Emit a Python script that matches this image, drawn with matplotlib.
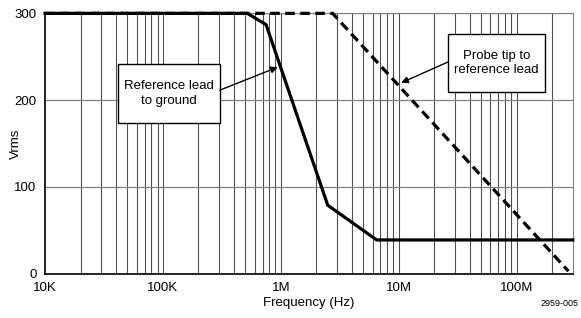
import matplotlib.pyplot as plt
from matplotlib.patches import Rectangle

# data
ref_freq = [1e4, 5.2e5, 7.5e5, 2.5e6, 6.5e6, 3e8]
ref_vrms = [300, 300, 287, 79, 39, 39]

tip_freq = [1e4, 2.75e6, 2.75e8]
tip_vrms = [300, 300, 3]

x_ticks = [1e4, 1e5, 1e6, 1e7, 1e8]
x_labels = ['10K', '100K', '1M', '10M', '100M']
y_ticks = [0, 100, 200, 300]

plt.rcParams['font.family'] = ['Liberation Sans Narrow', 'Liberation Sans', 'DejaVu Sans']

fig = plt.figure(figsize=(5.81, 3.18), dpi=100)
ax = fig.add_axes([0.0775, 0.139, 0.9085, 0.819])

ax.set_xscale('log')
ax.set_xlim(1e4, 3e8)
ax.set_ylim(0, 300)

# grid: every 1..9 per decade, horizontal at 100s
minor = [m * 10 ** d for d in range(4, 9) for m in range(1, 10)]
for f in minor:
    if 1e4 < f < 3e8:
        ax.axvline(f, color='#505050', lw=0.8, zorder=1)
for v in y_ticks[1:]:
    ax.axhline(v, color='#808080', lw=0.9, zorder=1)

ax.plot(ref_freq, ref_vrms, color='black', lw=2.3, zorder=3, clip_on=False)
ax.plot(tip_freq, tip_vrms, color='black', lw=2.3, ls=(0, (3, 1.7)), zorder=3, clip_on=False)

ax.set_xticks(x_ticks)
ax.set_xticklabels(x_labels)
ax.set_xticks([], minor=True)
ax.set_yticks(y_ticks)
ax.tick_params(length=0, labelsize=9.5, pad=6)

for s in ['top', 'right']:
    ax.spines[s].set_color('#808080')
for s in ['left', 'bottom']:
    ax.spines[s].set_color('black')
    ax.spines[s].set_linewidth(1.2)

ax.set_xlabel('Frequency (Hz)', fontsize=9.5, labelpad=2)
ax.set_ylabel('Vrms', fontsize=9.5)
ax.yaxis.set_label_coords(-0.043, 0.5)

# callout boxes
arrow = dict(arrowstyle='-|>', color='black', lw=1, mutation_scale=10, shrinkA=0, shrinkB=0)
callouts = [
    ('Reference lead\nto ground', (0.138, 0.579, 0.193, 0.226), (9.4e5, 238), (0.331, 0.705)),
    ('Probe tip to\nreference lead', (0.763, 0.698, 0.184, 0.222), (1.05e7, 220), (0.763, 0.813)),
]
for txt, (bx, by, bw, bh), tip, start in callouts:
    ax.add_patch(Rectangle((bx, by), bw, bh, transform=ax.transAxes,
                           fc='white', ec='black', lw=1, zorder=5))
    ax.text(bx + bw / 2, by + bh / 2, txt, transform=ax.transAxes, ha='center',
            va='center', fontsize=9.5, linespacing=1.3, zorder=6)
    ax.annotate('', xy=tip, xytext=start, textcoords='axes fraction',
                arrowprops=arrow, zorder=6)

fig.text(0.995, 0.03, '2959-005', ha='right', va='bottom', fontsize=6.5)

fig.savefig('out.png', dpi=100)
